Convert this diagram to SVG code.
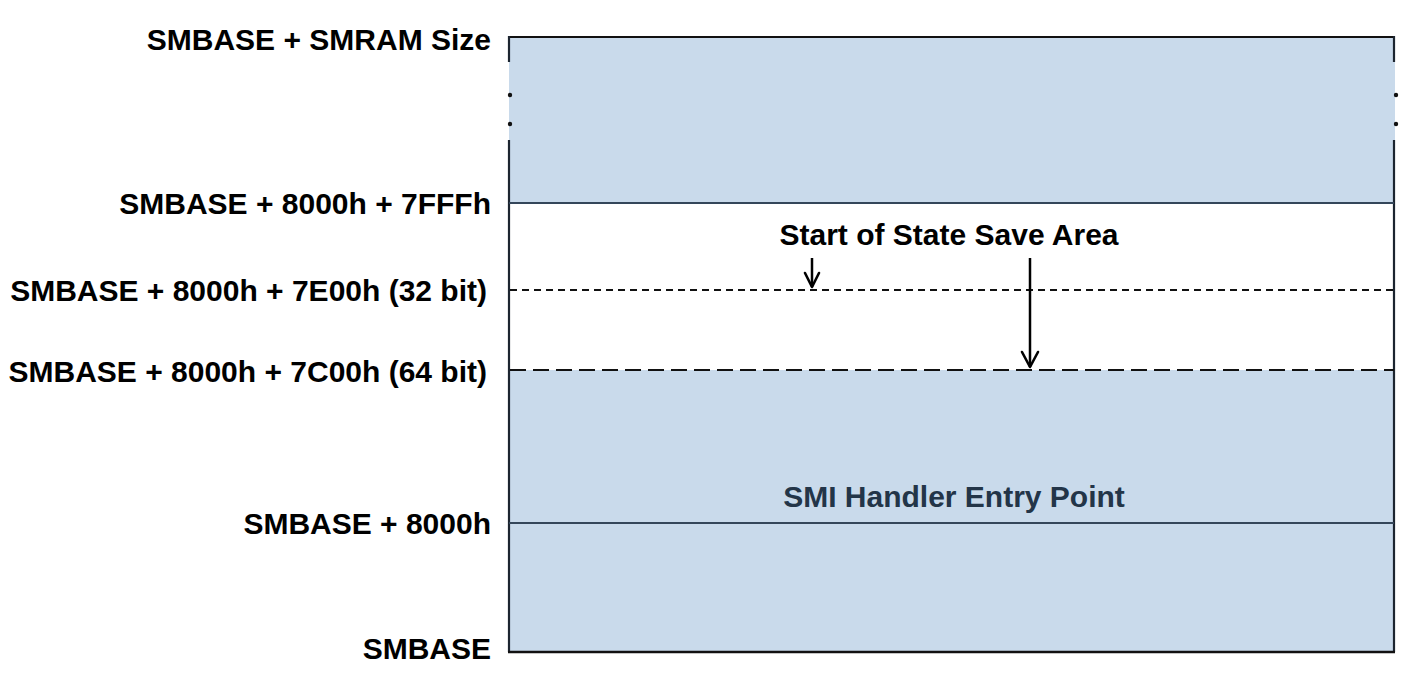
<svg xmlns="http://www.w3.org/2000/svg" width="1416" height="674" viewBox="0 0 1416 674">
<defs>
<style>
.lbl{font-family:"Liberation Sans",Arial,sans-serif;font-weight:bold;font-size:30px;fill:#000}
.border{stroke:#1c2530;stroke-width:2.2;fill:none}
.div{stroke:#34465a;stroke-width:2;fill:none}
.dash1{stroke:#111;stroke-width:2.2;stroke-dasharray:7 5;fill:none}
.dash2{stroke:#111;stroke-width:2.2;stroke-dasharray:16 7;fill:none}
.arrow{stroke:#000;stroke-width:2.5;fill:none}
.head{stroke:#000;stroke-width:2.6;fill:none;stroke-linecap:round;stroke-linejoin:round}
</style>
</defs>
<rect width="1416" height="674" fill="#fff"/>
<g id="smram-top">
<rect x="509" y="37" width="886" height="166" fill="#c9daeb"/>
<line x1="509" y1="37" x2="1394" y2="37" stroke="#111" stroke-width="2.2"/>
<line x1="509" y1="36" x2="509" y2="62" class="border"/>
<line x1="509" y1="140" x2="509" y2="203" class="border"/>
<line x1="1394" y1="36" x2="1394" y2="62" class="border"/>
<line x1="1394" y1="140" x2="1394" y2="203" class="border"/>
<circle cx="510" cy="95" r="2.2" fill="#111"/>
<circle cx="510" cy="124" r="2.2" fill="#111"/>
<circle cx="1396" cy="95" r="2.2" fill="#111"/>
<circle cx="1396" cy="124" r="2.2" fill="#111"/>
</g>
<g id="state-save">
<rect x="509" y="203" width="886" height="167" fill="#fff"/>
<line x1="509" y1="203" x2="509" y2="370" class="border"/>
<line x1="1394" y1="203" x2="1394" y2="370" class="border"/>
<text x="949" y="245" text-anchor="middle" class="lbl">Start of State Save Area</text>
</g>
<g id="handler">
<rect x="509" y="370" width="886" height="282" fill="#c9daeb"/>
<line x1="509" y1="370" x2="509" y2="652" class="border"/>
<line x1="1394" y1="370" x2="1394" y2="652" class="border"/>
<line x1="508" y1="652" x2="1395" y2="652" stroke="#111" stroke-width="2.4"/>
<text x="954" y="507" text-anchor="middle" class="lbl" style="fill:#233548">SMI Handler Entry Point</text>
</g>
<g id="lines">
<line x1="509" y1="203" x2="1394" y2="203" class="div"/>
<line x1="509" y1="523" x2="1394" y2="523" class="div"/>
<line x1="510" y1="290" x2="1394" y2="290" class="dash1"/>
<line x1="510" y1="370" x2="1394" y2="370" class="dash2"/>
</g>
<g id="connectors">
<line x1="812" y1="258" x2="812" y2="287" class="arrow"/>
<polyline points="805,273 812,287 819,273" class="head"/>
<line x1="1030" y1="258" x2="1030" y2="367" class="arrow"/>
<polyline points="1022,352 1030,367 1038,352" class="head"/>
</g>
<g id="labels">
<text x="491" y="50" text-anchor="end" class="lbl">SMBASE + SMRAM Size</text>
<text x="491" y="214" text-anchor="end" class="lbl">SMBASE + 8000h + 7FFFh</text>
<text x="487" y="301" text-anchor="end" class="lbl">SMBASE + 8000h + 7E00h (32 bit)</text>
<text x="487" y="382" text-anchor="end" class="lbl">SMBASE + 8000h + 7C00h (64 bit)</text>
<text x="491" y="534" text-anchor="end" class="lbl">SMBASE + 8000h</text>
<text x="491" y="659" text-anchor="end" class="lbl">SMBASE</text>
</g>
</svg>
